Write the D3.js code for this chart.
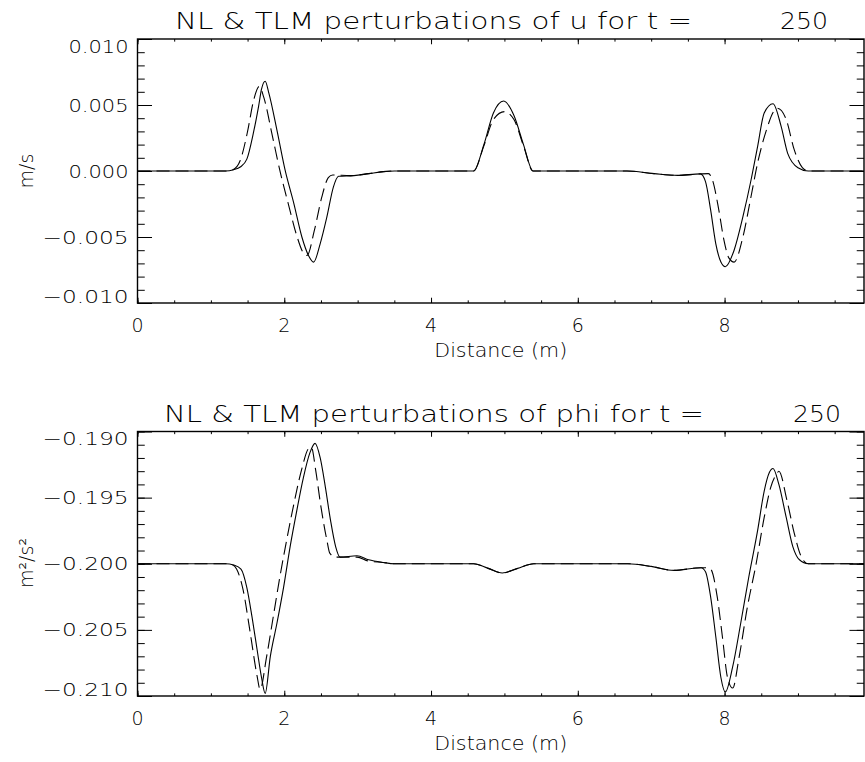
<!DOCTYPE html>
<html>
<head>
<meta charset="utf-8">
<script src="https://cdn.jsdelivr.net/npm/d3@7"></script>
<style>
  body { margin: 0; background: #fff; }
  svg text { font-family: "DejaVu Sans", sans-serif; font-weight: 200; fill: #000; white-space: pre; }
</style>
</head>
<body>
<svg id="chart" width="865" height="762"></svg>
<script>
// u perturbations (m/s), NL = solid, TLM = dashed
var uNL = [[0,0],[1.2,0],[1.31,0.0001],[1.40,0.0003],[1.49,0.0009],[1.58,0.0029],[1.65,0.0049],[1.69,0.0062],[1.74,0.0068],
  [1.79,0.0059],[1.90,0.0031],[2.01,0.0001],[2.13,-0.00245],[2.24,-0.0050],[2.33,-0.0064],[2.40,-0.0069],[2.49,-0.0055],
  [2.58,-0.0035],[2.67,-0.0012],[2.74,-0.0004],[2.95,-0.00035],[3.15,-0.0002],[3.35,-0.00005],[3.5,0],
  [4.58,0],[4.72,0.0020],[4.85,0.0044],[4.99,0.0053],[5.13,0.0042],[5.26,0.0020],[5.39,0],
  [6.67,0],[7.04,-0.0002],[7.36,-0.00033],[7.67,-0.00022],[7.74,-0.0008],[7.81,-0.00295],[7.88,-0.0055],[7.95,-0.0069],
  [8.01,-0.00725],[8.13,-0.0060],[8.25,-0.00346],[8.36,-0.0007],[8.45,0.00185],[8.54,0.0044],[8.66,0.0051],[8.77,0.0034],
  [8.86,0.00134],[9.0,0.00025],[9.14,0],[9.9,0]];
var uTLM = [[0,0],[1.2,0],[1.30,0.0001],[1.40,0.0008],[1.50,0.0030],[1.58,0.0053],[1.66,0.0064],[1.72,0.0056],[1.84,0.0026],
  [1.95,-0.0002],[2.06,-0.0026],[2.17,-0.0049],[2.26,-0.0062],[2.31,-0.0064],[2.41,-0.0045],[2.51,-0.0020],[2.60,-0.0005],
  [2.66,-0.0003],[2.9,-0.00035],[3.15,-0.0002],[3.35,-0.00005],[3.5,0],
  [4.58,0],[4.72,0.0019],[4.85,0.0039],[5.0,0.0045],[5.13,0.0039],[5.26,0.0019],[5.39,0],
  [6.67,0],[7.04,-0.0002],[7.36,-0.00033],[7.67,-0.00022],[7.78,-0.0002],[7.83,-0.0006],[7.92,-0.0029],[7.99,-0.0052],
  [8.06,-0.0066],[8.13,-0.0069],[8.25,-0.0050],[8.36,-0.00195],[8.45,0.0006],[8.57,0.0031],[8.68,0.0046],[8.72,0.00475],
  [8.84,0.0039],[8.95,0.0016],[9.06,0.00025],[9.14,0],[9.9,0]];

// phi perturbations (m^2/s^2)
var phiNL = [[0,-0.2],[1.2,-0.2],[1.31,-0.2001],[1.41,-0.2004],[1.49,-0.2018],[1.56,-0.2040],[1.63,-0.2065],[1.69,-0.2086],
  [1.74,-0.2098],[1.81,-0.2070],[1.90,-0.2045],[1.99,-0.2018],[2.08,-0.1987],[2.17,-0.1960],[2.26,-0.1935],[2.35,-0.1916],
  [2.42,-0.1909],[2.49,-0.1920],[2.56,-0.1942],[2.63,-0.1967],[2.70,-0.1987],[2.76,-0.1995],[2.99,-0.1994],[3.15,-0.1997],
  [3.35,-0.1999],[3.5,-0.2],[4.58,-0.2],[4.78,-0.20035],[4.97,-0.2007],[5.18,-0.20035],[5.40,-0.2],
  [6.68,-0.2],[7.0,-0.2002],[7.31,-0.2005],[7.68,-0.2003],[7.74,-0.2006],[7.81,-0.2025],[7.88,-0.2055],[7.95,-0.2086],
  [8.01,-0.2097],[8.11,-0.2078],[8.22,-0.2045],[8.33,-0.2010],[8.45,-0.1975],[8.54,-0.1945],[8.61,-0.1931],[8.66,-0.1928],
  [8.74,-0.1940],[8.84,-0.1965],[8.93,-0.1987],[9.02,-0.1997],[9.14,-0.2],[9.9,-0.2]];
var phiTLM = [[0,-0.2],[1.2,-0.2],[1.30,-0.2001],[1.35,-0.2004],[1.44,-0.2020],[1.53,-0.2050],[1.63,-0.2085],[1.67,-0.2095],
  [1.76,-0.2070],[1.85,-0.2040],[1.94,-0.2010],[2.04,-0.1980],[2.13,-0.1955],[2.24,-0.1928],[2.33,-0.1913],[2.37,-0.1912],
  [2.43,-0.1930],[2.50,-0.1957],[2.58,-0.1982],[2.62,-0.1992],[2.70,-0.1995],[2.76,-0.1995],[2.99,-0.1995],[3.15,-0.1998],
  [3.35,-0.1999],[3.5,-0.2],[4.58,-0.2],[4.78,-0.20035],[4.97,-0.2007],[5.18,-0.20035],[5.40,-0.2],
  [6.68,-0.2],[7.0,-0.2002],[7.31,-0.2005],[7.68,-0.2003],[7.76,-0.2003],[7.81,-0.2004],[7.90,-0.2025],[7.97,-0.2055],
  [8.04,-0.2086],[8.11,-0.2094],[8.20,-0.2070],[8.31,-0.2033],[8.43,-0.2000],[8.54,-0.1965],[8.63,-0.1942],[8.71,-0.1932],
  [8.74,-0.1930],[8.85,-0.1952],[8.95,-0.1977],[9.04,-0.1994],[9.14,-0.2],[9.9,-0.2]];

var xMajor = [0, 2, 4, 6, 8];
var xMinor = d3.range(0, 9.9, 0.5);
var uTicks = [-0.010, -0.005, 0.000, 0.005, 0.010];
var phiTicks = [-0.210, -0.205, -0.200, -0.195, -0.190];

var svg = d3.select('#chart');
var left = 137.5, right = 864;
var x = d3.scaleLinear().domain([0, 9.9]).range([left, right]);

function panel(top, bottom, yDomain, yTicks, yMinorStep, nl, tlm, title, titleBox, ylab, ylabY) {
  var y = d3.scaleLinear().domain(yDomain).range([bottom, top]);
  var g = svg.append('g');
  var h = bottom - top, w = right - left;

  // minor + major ticks on all four sides
  var yMinor = d3.range(yDomain[0], yDomain[1] + 1e-9, yMinorStep);
  var tickSets = [
    [d3.axisBottom(x).tickValues(xMinor).tickSize(-h * 0.01), 'translate(0,' + bottom + ')'],
    [d3.axisBottom(x).tickValues(xMajor).tickSize(-h * 0.02), 'translate(0,' + bottom + ')'],
    [d3.axisTop(x).tickValues(xMinor).tickSize(-h * 0.01), 'translate(0,' + top + ')'],
    [d3.axisTop(x).tickValues(xMajor).tickSize(-h * 0.02), 'translate(0,' + top + ')'],
    [d3.axisLeft(y).tickValues(yMinor).tickSize(-w * 0.01), 'translate(' + left + ',0)'],
    [d3.axisLeft(y).tickValues(yTicks).tickSize(-w * 0.02), 'translate(' + left + ',0)'],
    [d3.axisRight(y).tickValues(yMinor).tickSize(-w * 0.01), 'translate(' + right + ',0)'],
    [d3.axisRight(y).tickValues(yTicks).tickSize(-w * 0.02), 'translate(' + right + ',0)']
  ];
  tickSets.forEach(function(t) {
    var a = g.append('g').attr('transform', t[1]).call(t[0].tickFormat(''));
    a.select('.domain').remove();
    a.selectAll('line').attr('stroke', '#000').attr('stroke-width', 1);
  });

  g.append('rect').attr('x', left).attr('y', top).attr('width', w).attr('height', h)
    .attr('fill', 'none').attr('stroke', '#000').attr('stroke-width', 1.4);

  // y tick labels (extremes nudged inside, like the original)
  yTicks.forEach(function(v, i) {
    var yy = y(v) + 6.5;
    if (i === 0) yy -= 7;
    if (i === yTicks.length - 1) yy += 7;
    var s = d3.format('.3f')(Math.abs(v));
    g.append('text').attr('x', 128.5).attr('y', yy).attr('text-anchor', 'end')
      .attr('font-size', 18).attr('textLength', v < 0 ? 86 : 60).attr('lengthAdjust', 'spacingAndGlyphs')
      .text((v < 0 ? '\u2212' : '') + s);
  });

  // x tick labels
  xMajor.forEach(function(v) {
    g.append('text').attr('x', x(v)).attr('y', bottom + 29).attr('text-anchor', 'middle')
      .attr('font-size', 19).text(v);
  });

  g.append('text').attr('x', (left + right) / 2).attr('y', bottom + 54).attr('text-anchor', 'middle')
    .attr('font-size', 19).attr('textLength', 133).attr('lengthAdjust', 'spacingAndGlyphs').text('Distance (m)');

  g.append('text').attr('transform', 'translate(33,' + ylabY + ') rotate(-90)').attr('text-anchor', 'middle')
    .attr('font-size', 19).text(ylab);

  // title: text part + right-aligned time value
  g.append('text').attr('x', titleBox[0]).attr('y', top - 10)
    .attr('font-size', 23).attr('textLength', titleBox[1] - titleBox[0]).attr('lengthAdjust', 'spacingAndGlyphs')
    .text(title[0]);
  g.append('text').attr('x', titleBox[3]).attr('y', top - 10).attr('text-anchor', 'end')
    .attr('font-size', 23).attr('textLength', titleBox[3] - titleBox[2]).attr('lengthAdjust', 'spacingAndGlyphs')
    .text(title[1]);

  var clipId = 'clip' + Math.round(top);
  svg.append('clipPath').attr('id', clipId).append('rect')
    .attr('x', left).attr('y', top).attr('width', w).attr('height', h);

  var line = d3.line().x(function(d) { return x(d[0]); }).y(function(d) { return y(d[1]); })
    .curve(d3.curveMonotoneX);

  g.append('path').datum(tlm).attr('d', line).attr('clip-path', 'url(#' + clipId + ')')
    .attr('fill', 'none').attr('stroke', '#000').attr('stroke-width', 1.1).attr('stroke-dasharray', '13,6');
  g.append('path').datum(nl).attr('d', line).attr('clip-path', 'url(#' + clipId + ')')
    .attr('fill', 'none').attr('stroke', '#000').attr('stroke-width', 1.1);
}

panel(39, 303, [-0.010, 0.010], uTicks, 0.001, uNL, uTLM,
  ['NL & TLM perturbations of u for t =', '250'], [175, 692, 780, 828], 'm/s', 171);
panel(431.5, 696, [-0.210, -0.190], phiTicks, 0.001, phiNL, phiTLM,
  ['NL & TLM perturbations of phi for t =', '250'], [164, 704, 793, 841], 'm\u00b2/s\u00b2', 563);
</script>
</body>
</html>
